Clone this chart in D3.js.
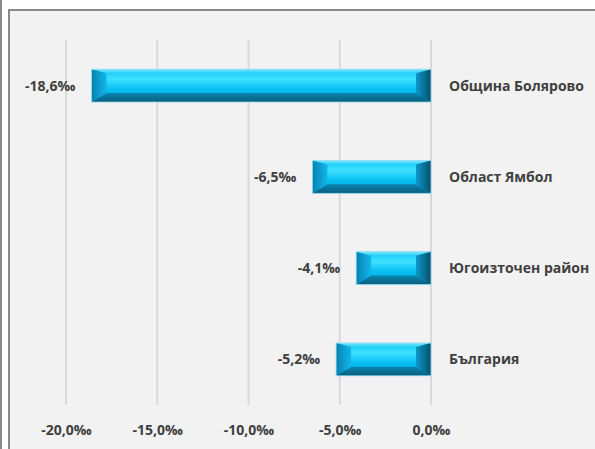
<!DOCTYPE html>
<html>
<head>
<meta charset="utf-8">
<script src="https://cdn.jsdelivr.net/npm/d3@7"></script>
<style>
  html, body { margin: 0; padding: 0; background: #ffffff; }
  svg { display: block; }
  text { font-family: "Open Sans", "DejaVu Sans", sans-serif; font-weight: bold; fill: #404040; }
</style>
</head>
<body>
<div id="chart"></div>
<script>
// data
var categories = ["Община Болярово", "Област Ямбол", "Югоизточен район", "България"];
var values = [-18.6, -6.5, -4.1, -5.2];
var ticks = [-20, -15, -10, -5, 0];

var width = 595, height = 449;

var locale = d3.formatLocale({ decimal: ",", thousands: " ", grouping: [3], currency: ["", ""], minus: "-" });
var fmt = locale.format(".1f");
var permille = function (v) { return fmt(v) + "‰"; };

var svg = d3.select("#chart").append("svg")
  .attr("width", width)
  .attr("height", height);

// frame
svg.append("rect").attr("x", 0).attr("y", 0).attr("width", 2).attr("height", height).attr("fill", "#8a8a8a");
svg.append("rect").attr("x", 8).attr("y", 9).attr("width", width - 8).attr("height", height - 9).attr("fill", "#888888");
svg.append("rect").attr("x", 10).attr("y", 11).attr("width", width - 10).attr("height", height - 11).attr("fill", "#f2f2f2");

var x = d3.scaleLinear().domain([-20, 0]).range([66, 431]);
var y = d3.scaleBand().domain(categories).range([40, 405]).paddingInner(0.64).paddingOuter(0.32);

// gridlines
svg.append("g").selectAll("line")
  .data(ticks)
  .join("line")
  .attr("x1", d => x(d)).attr("x2", d => x(d))
  .attr("y1", 40).attr("y2", 405)
  .attr("stroke", "#d9d9d9")
  .attr("stroke-width", 2);

// axis labels
var axis = d3.axisBottom(x).tickValues(ticks).tickFormat(permille).tickSize(0).tickPadding(0);
var axisG = svg.append("g").attr("transform", "translate(0,425)").call(axis);
axisG.select(".domain").remove();
axisG.selectAll("text")
  .attr("font-size", 14)
  .attr("font-family", null)
  .attr("fill", "#404040");

// bevel gradients
var defs = svg.append("defs");
function vgrad(id, stops, horiz) {
  var g = defs.append("linearGradient").attr("id", id)
    .attr("x1", 0).attr("y1", 0).attr("x2", horiz ? 1 : 0).attr("y2", horiz ? 0 : 1);
  stops.forEach(s => g.append("stop").attr("offset", s[0]).attr("stop-color", s[1]));
}
vgrad("face", [["0%", "#10c6f6"], ["30%", "#3ee0fe"], ["60%", "#08c0f2"], ["100%", "#04a4d8"]]);
vgrad("bevTop", [["0%", "#7ee6fb"], ["100%", "#24cff8"]]);
vgrad("bevBot", [["0%", "#0a86b0"], ["100%", "#0b5c7c"]]);
vgrad("bevLeft", [["0%", "#0a80b0"], ["100%", "#10b8ea"]], true);
vgrad("bevRight", [["0%", "#0c98c8"], ["100%", "#064f6c"]], true);

var bt = 4, bb = 9, bs = 15; // bevel sizes
var bars = svg.append("g").selectAll("g.bar")
  .data(categories.map((c, i) => ({ cat: c, val: values[i] })))
  .join("g").attr("class", "bar");

bars.each(function (d) {
  var g = d3.select(this);
  var x0 = x(d.val), x1 = x(0);
  var y0 = y(d.cat), y1 = y0 + y.bandwidth();
  g.append("rect").attr("x", x0).attr("y", y0).attr("width", x1 - x0).attr("height", y1 - y0)
    .attr("fill", "url(#face)");
  g.append("polygon").attr("points", [[x0, y0], [x1, y0], [x1 - bs, y0 + bt], [x0 + bs, y0 + bt]].join(" "))
    .attr("fill", "url(#bevTop)");
  g.append("polygon").attr("points", [[x0, y1], [x1, y1], [x1 - bs, y1 - bb], [x0 + bs, y1 - bb]].join(" "))
    .attr("fill", "url(#bevBot)");
  g.append("polygon").attr("points", [[x0, y0], [x0 + bs, y0 + bt], [x0 + bs, y1 - bb], [x0, y1]].join(" "))
    .attr("fill", "url(#bevLeft)");
  g.append("polygon").attr("points", [[x1, y0], [x1 - bs, y0 + bt], [x1 - bs, y1 - bb], [x1, y1]].join(" "))
    .attr("fill", "url(#bevRight)");
  g.append("rect").attr("x", x0).attr("y", y0).attr("width", x1 - x0).attr("height", y1 - y0)
    .attr("fill", "none").attr("stroke", "#9adff2").attr("stroke-width", 0.8);
});

// value labels
bars.append("text")
  .attr("x", d => x(d.val) - 16)
  .attr("y", d => y(d.cat) + y.bandwidth() / 2)
  .attr("dy", "0.35em")
  .attr("text-anchor", "end")
  .attr("font-size", 14)
  .text(d => permille(d.val));

// category labels
bars.append("text")
  .attr("x", x(0) + 18)
  .attr("y", d => y(d.cat) + y.bandwidth() / 2)
  .attr("dy", "0.35em")
  .attr("font-size", 14)
  .text(d => d.cat);
</script>
</body>
</html>
